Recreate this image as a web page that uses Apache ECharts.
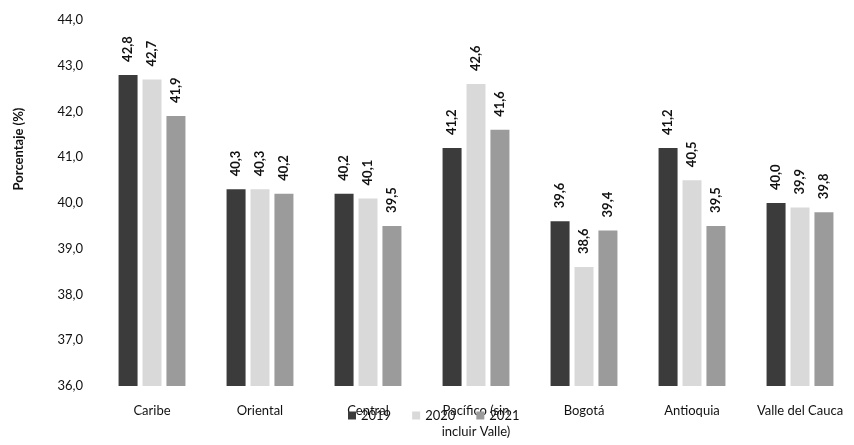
<!DOCTYPE html>
<html>
<head>
<meta charset="utf-8">
<script src="https://cdn.jsdelivr.net/npm/echarts@6/dist/echarts.min.js"></script>
<style>
  html, body { margin: 0; padding: 0; background: #fff; }
  #main { width: 854px; height: 445px; }
</style>
</head>
<body>
<div id="main"></div>
<script>
// regiones y porcentajes por año
var regiones = ["Caribe", "Oriental", "Central", "Pacífico (sin\nincluir Valle)", "Bogotá", "Antioquia", "Valle del Cauca"];
var anios = ["2019", "2020", "2021"];
var datos2019 = [42.8, 40.3, 40.2, 41.2, 39.6, 41.2, 40.0];
var datos2020 = [42.7, 40.3, 40.1, 42.6, 38.6, 40.5, 39.9];
var datos2021 = [41.9, 40.2, 39.5, 41.6, 39.4, 39.5, 39.8];
var colores = ["#3b3b3b", "#d9d9d9", "#9b9b9b"];

var fuente = "Lato";
function coma(v) {
  return Number(v).toFixed(1).replace(".", ",");
}

function serie(nombre, datos) {
  return {
    name: nombre,
    type: "bar",
    data: datos,
    barWidth: 19,
    barGap: "26%",
    label: {
      show: true,
      position: "top",
      rotate: 90,
      align: "left",
      verticalAlign: "middle",
      distance: 13,
      fontFamily: fuente,
      fontWeight: "bold",
      fontSize: 13,
      color: "#111",
      formatter: function (p) { return coma(p.value); }
    }
  };
}

var myChart = echarts.init(document.getElementById("main"));
var option = {
  backgroundColor: "#fff",
  color: colores,
  animation: false,
  grid: { left: 98, right: 0, top: 20, bottom: 59 },
  legend: {
    data: anios,
    left: 343,
    top: 404,
    icon: "rect",
    itemWidth: 8,
    itemHeight: 8,
    itemGap: 21,
    textStyle: { fontFamily: fuente, fontSize: 13, color: "#111" }
  },
  graphic: [{
    type: "text",
    x: 19,
    y: 149,
    rotation: Math.PI / 2,
    style: {
      text: "Porcentaje (%)",
      fontFamily: fuente,
      fontWeight: "bold",
      fontSize: 13,
      fill: "#111",
      align: "center",
      verticalAlign: "middle"
    }
  }],
  xAxis: {
    type: "category",
    data: regiones,
    axisLine: { show: false },
    axisTick: { show: false },
    axisLabel: {
      margin: 14,
      interval: 0,
      fontFamily: fuente,
      fontSize: 13,
      color: "#111",
      lineHeight: 21
    }
  },
  yAxis: {
    type: "value",
    min: 36,
    max: 44,
    interval: 1,
    axisLine: { show: false },
    axisTick: { show: false },
    splitLine: { show: false },
    axisLabel: {
      margin: 15,
      fontFamily: fuente,
      fontSize: 13,
      color: "#111",
      formatter: coma
    }
  },
  series: [
    serie("2019", datos2019),
    serie("2020", datos2020),
    serie("2021", datos2021)
  ]
};
myChart.setOption(option);
</script>
</body>
</html>
